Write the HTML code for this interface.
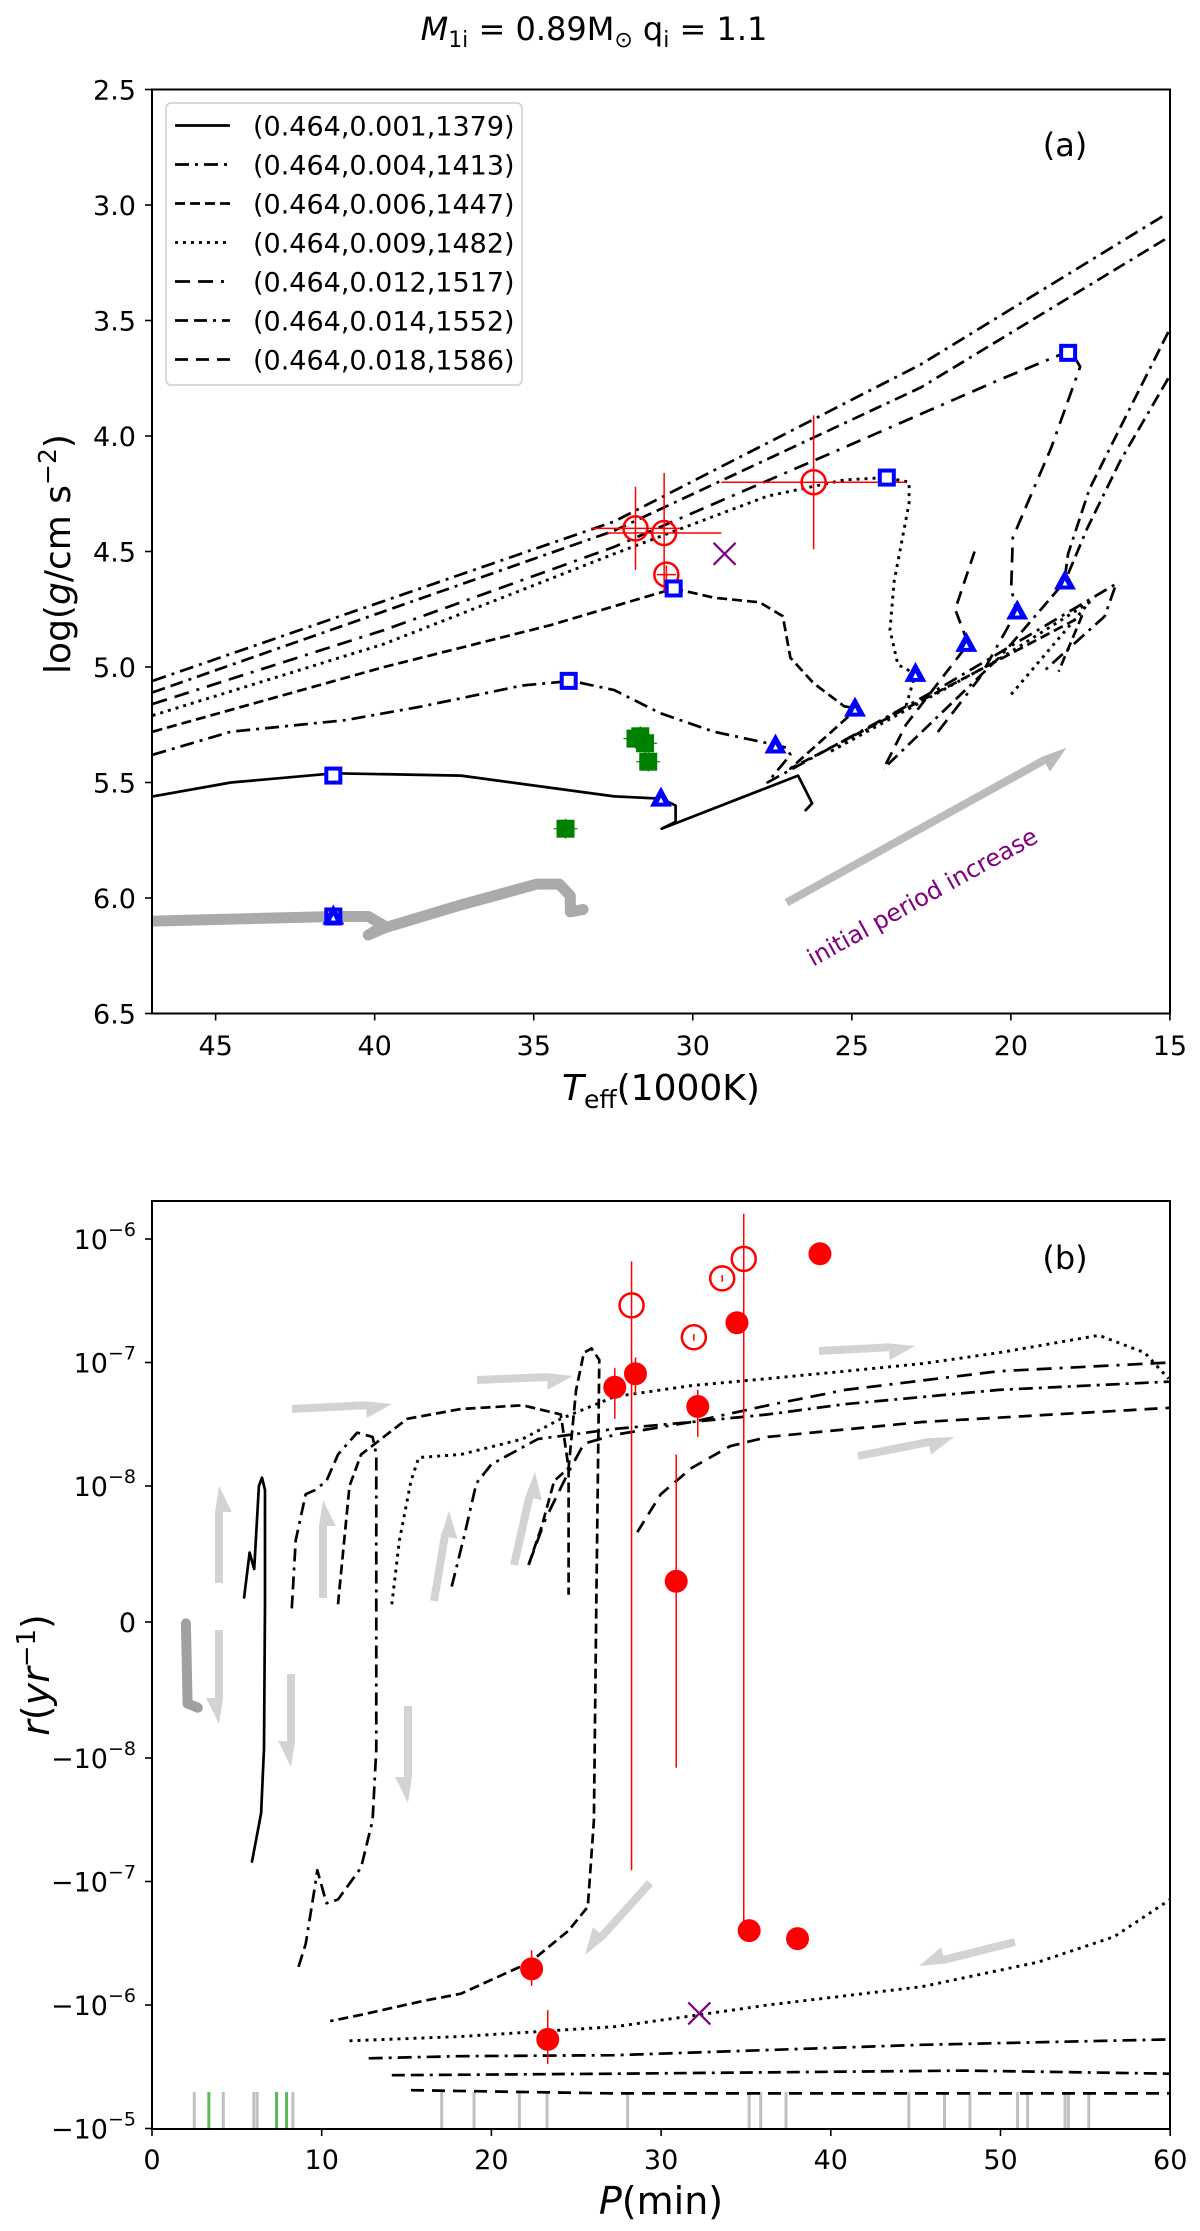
<!DOCTYPE html>
<html><head><meta charset="utf-8"><style>
html,body{margin:0;padding:0;background:#fff;}
svg{display:block;font-family:"DejaVu Sans","Liberation Sans",sans-serif;}
</style></head><body>
<svg id="fig" width="1200" height="2231" viewBox="0 0 1200 2231" xmlns="http://www.w3.org/2000/svg">
<text x="594" y="40" text-anchor="middle" font-size="32"><tspan font-style="italic">M</tspan><tspan font-size="22" dy="7">1i</tspan><tspan dy="-7"> = 0.89M</tspan><tspan font-size="22" dy="7">⊙</tspan><tspan dy="-7"> q</tspan><tspan font-size="22" dy="7">i</tspan><tspan dy="-7"> = 1.1</tspan></text>
<g id="panelTop"></g>
<g id="panelBot"></g>
</svg>
<script>
// ===== Panel (a) data: [Teff (kK), log g] =====
const trackSolidA=[[46.98,5.56],[44.52,5.50],[41.27,5.46],[37.29,5.47],[32.47,5.56],[30.98,5.57],[30.54,5.60],[30.54,5.67],[30.98,5.70],[26.69,5.47],[26.25,5.59],[26.45,5.62]];
const track004A=[[46.98,5.38],[44.52,5.28],[40.9,5.23],[38.5,5.17],[35.36,5.08],[33.82,5.06],[32.47,5.10],[31.02,5.20],[29.34,5.28],[27.65,5.33],[27.05,5.35],[26.93,5.38],[27.65,5.50],[22.1,5.08],[16.69,4.64],[17.05,4.78],[18.98,5.02]];
const track006A=[[46.98,5.28],[39.7,5.0],[34.5,4.82],[30.59,4.66],[29.34,4.70],[27.9,4.72],[27.17,4.78],[26.93,4.96],[26.2,5.07],[25.24,5.17],[24.83,5.18],[26.93,5.44],[21.63,5.06],[17.77,4.78],[18.5,5.02]];
const track009A=[[46.98,5.21],[39.7,4.90],[32.47,4.51],[27.65,4.26],[25.24,4.19],[23.92,4.18],[23.2,4.20],[23.2,4.29],[23.67,4.63],[23.8,4.84],[23.55,4.99],[23.0,5.03],[23.3,5.17],[25.72,5.37],[20.42,4.97],[17.53,4.72],[20.06,5.13]];
const track012A=[[46.98,5.16],[39.7,4.84],[32.47,4.48],[25.24,4.05],[20.42,3.76],[18.13,3.63],[17.82,3.70],[18.73,4.05],[19.94,4.44],[19.99,4.66],[19.82,4.76],[21.0,5.05],[22.4,5.30]];
const track014A=[[46.98,5.11],[32.47,4.41],[22.83,3.79],[15.05,3.14]];
const track014bA=[[15.05,3.75],[16.57,4.11],[17.6,4.40],[18.3,4.63],[20.3,4.95],[24.0,5.44]];
const track018A=[[46.98,5.06],[32.47,4.37],[22.83,3.69],[15.12,3.04]];
const track018bA=[[15.05,3.55],[16.33,3.90],[17.53,4.23],[18.2,4.51],[18.3,4.61]];
const track018cA=[[21.14,4.50],[21.75,4.75],[21.34,4.90],[23.3,5.25],[24.0,5.44]];
const grayTrackA=[[47,6.10],[41.27,6.08],[40.2,6.08],[39.7,6.12],[40.2,6.16],[39.7,6.13],[37.29,6.03],[34.9,5.94],[34.2,5.94],[33.85,5.99],[33.85,6.06],[33.45,6.05]];
const squaresA=[[41.3,5.47],[33.9,5.06],[30.6,4.66],[23.9,4.18],[18.2,3.64],[41.3,6.08]];
const trianglesA=[[41.3,6.08],[31.0,5.57],[27.4,5.34],[24.9,5.18],[23.0,5.03],[21.4,4.90],[19.8,4.76],[18.3,4.63]];
const obsT=[31.8,30.9,30.83,26.2];
const obsG=[4.40,4.42,4.60,4.20];
const obsTerr=[1.4,1.8,0.3,2.9];
const obsGerr=[0.18,0.26,0.04,0.29];
const greenT=[31.8,31.65,31.5,31.4,34.0];
const greenG=[5.31,5.30,5.33,5.41,5.70];
const crossA=[29.0,4.51];
const xTicksA=[45,40,35,30,25,20,15];
const yTicksA=[2.5,3.0,3.5,4.0,4.5,5.0,5.5,6.0,6.5];
const legendLabels=["(0.464,0.001,1379)","(0.464,0.004,1413)","(0.464,0.006,1447)","(0.464,0.009,1482)","(0.464,0.012,1517)","(0.464,0.014,1552)","(0.464,0.018,1586)"];

// ===== Panel (b) data: [P (min), r (1/yr)] =====
const trackSolidB=[[5.43,1.8e-9],[5.75,5.1e-9],[6.02,3.9e-9],[6.3,1e-8],[6.48,1.17e-8],[6.66,9.7e-9],[6.66,1.3e-9],[6.6,-9.3e-9],[6.43,-2.8e-8],[5.89,-6.9e-8]];
const track004B=[[8.24,1e-9],[8.47,6e-9],[9.06,9.4e-9],[9.6,9.7e-9],[10.28,1.1e-8],[10.96,1.8e-8],[12.09,2.7e-8],[13.0,2.5e-8],[13.22,1.8e-8],[13.22,1.3e-9],[13.22,-9.3e-9],[13.0,-3.2e-8],[12.32,-7.7e-8],[10.96,-1.4e-7],[10.28,-1.5e-7],[9.74,-8.1e-8],[9.6,-1.1e-7],[9.06,-3.2e-7],[8.6,-5.1e-7]];
const track006B=[[10.96,1.3e-9],[11.64,1e-8],[12.32,1.8e-8],[15.04,3.5e-8],[18.2,4.2e-8],[21.83,4.5e-8],[24.09,3.8e-8],[24.55,1.4e-8],[24.55,2e-9]];
const track006bB=[[22.19,4.2e-9],[22.96,7e-9],[23.7,1.1e-8],[24.55,1.4e-8],[24.99,6e-8],[25.45,1.2e-7],[25.9,1.3e-7],[26.36,1.05e-7],[26.18,1.3e-9],[26.04,-3.2e-8],[25.68,-1.6e-7],[24.55,-2.5e-7],[22.28,-4.5e-7],[18.2,-8.1e-7],[15.94,-9.3e-7],[12.32,-1.2e-6],[10.5,-1.35e-6]];
const track009B=[[14.13,1.3e-9],[14.58,6e-9],[15.26,1.1e-8],[15.72,1.7e-8],[18.2,1.8e-8],[21.83,2.4e-8],[24.09,3.5e-8],[27.26,5.3e-8],[31.8,6.5e-8],[36.3,7.4e-8],[40.85,8.5e-8],[45.4,9.8e-8],[49.9,1.2e-7],[55.8,1.66e-7],[58.5,1.2e-7],[59.9,7.4e-8]];
const track009nB=[[11.64,-1.95e-6],[18.2,-1.8e-6],[27.26,-1.5e-6],[32.25,-1.2e-6],[36.3,-1e-6],[45.4,-7.1e-7],[52.2,-4.5e-7],[56.7,-2.8e-7],[60,-1.4e-7]];
const track012B=[[17.66,2.6e-9],[18.43,6.5e-9],[19.11,1.05e-8],[20.0,1.5e-8],[22.74,2.4e-8],[27.26,2.9e-8],[31.8,3.3e-8],[36.3,3.8e-8],[40.85,4.6e-8],[49.9,6e-8],[60,7e-8]];
const track014B=[[22.19,4.2e-9],[23.2,7.6e-9],[24.55,1.3e-8],[25.45,2.2e-8],[27.26,2.6e-8],[31.8,3.3e-8],[36.3,4.5e-8],[40.85,6e-8],[49.9,8.5e-8],[60,1e-7]];
const track018B=[[28.6,6.6e-9],[29.98,9.4e-9],[31.8,1.4e-8],[34.06,2.1e-8],[36.3,2.5e-8],[45.4,3.3e-8],[60,4.3e-8]];
const trackNeg1B=[[12.77,-2.7e-6],[18.0,-2.6e-6],[27.26,-2.55e-6],[45.4,-2.1e-6],[60,-1.9e-6]];
const trackNeg2B=[[14.13,-3.7e-6],[27.26,-3.6e-6],[48.0,-3.4e-6],[60,-3.6e-6]];
const trackNeg3B=[[15.26,-4.9e-6],[27.26,-5.2e-6],[45.4,-5.2e-6],[60,-5.2e-6]];
const grayTrackB=[[2.0,-1e-10],[2.1,-6e-9],[2.7,-6.3e-9]];
const filledP=[27.27,28.49,32.16,34.47,39.36,30.89,35.19,38.04,22.37,23.32];
const filledR=[6.3e-8,8.1e-8,4.4e-8,2.1e-7,7.6e-7,3e-9,-2.5e-7,-2.9e-7,-5.1e-7,-1.9e-6];
const filledLo=[3.5e-8,5.5e-8,2.5e-8,2.1e-7,7.6e-7,-1.2e-8,-2.5e-7,-2.9e-7,-7e-7,-3e-6];
const filledHi=[9e-8,1.1e-7,6e-8,2.1e-7,7.6e-7,1.8e-8,-2.5e-7,-2.9e-7,-3.6e-7,-1.1e-6];
const openP=[28.26,31.93,33.6,34.87];
const openR=[2.9e-7,1.6e-7,4.8e-7,6.9e-7];
const openLo=[-8.1e-8,1.5e-7,4.5e-7,-2.5e-7];
const openHi=[6.6e-7,1.7e-7,5.1e-7,1.6e-6];
const crossB=[32.25,-1.17e-6];
const rugGray=[2.49,4.2,6.0,6.2,8.3,17.07,18.98,21.65,23.28,28.03,35.19,35.87,37.36,44.6,46.7,48.2,51.0,51.6,53.8,54.0,55.2];
const rugGreen=[3.35,7.34,7.93];
const xTicksB=[0,10,20,30,40,50,60];
const yTickVals=[1e-6,1e-7,1e-8,0,-1e-8,-1e-7,-1e-6,-1e-5];
const yTickExp=["−6","−7","−8","","−8","−7","−6","−5"];

const NS="http://www.w3.org/2000/svg";
function mk(parent,tag,attrs){const e=document.createElementNS(NS,tag);for(const k in attrs)e.setAttribute(k,attrs[k]);parent.appendChild(e);return e;}
function tsp(parent,txt,attrs){const t=mk(parent,'tspan',attrs||{});t.textContent=txt;return t;}
const xT=T=>152+(47-T)*31.81;
const yG=g=>89.5+(g-2.5)*231;
const xP=P=>152+P*16.97;
function yR(v){const a=Math.abs(v);let t;if(a<=1e-8)t=v/1e-8*136;else t=Math.sign(v)*(136+(Math.log10(a)+8)*123.5);return 1622-t;}
const DASH={s:"",d004:"14 6 3 6",d006:"10 5",d009:"3 5",d012:"15 8 15 8 3 8",d014:"13 6 13 6 3 6",d018:"13 8"};
const LW=2.7;

const gTop=document.getElementById('panelTop'), gBot=document.getElementById('panelBot');
function path(g,pts,fx,fy,dash,w,col,name){
  const d=pts.map((p,i)=>(i?'L':'M')+fx(p[0]).toFixed(1)+','+fy(p[1]).toFixed(1)).join(' ');
  const e=mk(g,'path',{d:d,fill:'none',stroke:col||'#000','stroke-width':w||LW,'stroke-dasharray':dash,'stroke-linejoin':'round','stroke-linecap':dash?'butt':'round'});
  
  
  return e;
}
function grayArrow(g,x1,y1,x2,y2,w,col,name){
  const dx=x2-x1,dy=y2-y1,L=Math.hypot(dx,dy),ux=dx/L,uy=dy/L,nx=-uy,ny=ux;
  const hl=Math.min(L*0.35,26),hw=w*1.6;
  const bx=x2-ux*hl,by=y2-uy*hl;
  const pts=[[x1+nx*w/2,y1+ny*w/2],[bx+nx*w/2,by+ny*w/2],[bx+nx*hw,by+ny*hw],[x2,y2],[bx-nx*w/2,by-ny*w/2],[x1-nx*w/2,y1-ny*w/2]];
  const e=mk(g,'polygon',{points:pts.map(p=>p[0].toFixed(1)+','+p[1].toFixed(1)).join(' '),fill:col});
  
  
}

// ---------- Panel (a) ----------
(function(){
  const g=gTop;
  const cp=mk(g,'clipPath',{id:'clipA'});mk(cp,'rect',{x:152,y:89.5,width:1018,height:924});
  const pg=mk(g,'g',{'clip-path':'url(#clipA)'});
  path(pg,grayTrackA,xT,yG,'',11,'#aaaaaa','gray-track-a');
  path(pg,track018A,xT,yG,DASH.d004,LW,'#000','track-0.018');
  path(pg,track018bA,xT,yG,DASH.d014,LW,'#000','track-0.018-return');
  path(pg,track018cA,xT,yG,DASH.d018,LW,'#000','track-0.018-loop');
  path(pg,track014A,xT,yG,DASH.d014,LW,'#000','track-0.014');
  path(pg,track014bA,xT,yG,DASH.d014,LW,'#000','track-0.014-return');
  path(pg,track012A,xT,yG,DASH.d012,LW,'#000','track-0.012');
  path(pg,track009A,xT,yG,DASH.d009,2.9,'#000','track-0.009');
  path(pg,track006A,xT,yG,DASH.d006,LW,'#000','track-0.006');
  path(pg,track004A,xT,yG,DASH.d004,LW,'#000','track-0.004');
  path(pg,trackSolidA,xT,yG,'',LW,'#000','track-0.001');
  for(let i=0;i<obsT.length;i++){
    const x=xT(obsT[i]),y=yG(obsG[i]);
    const l1=mk(pg,'line',{x1:xT(obsT[i]+obsTerr[i]),x2:xT(obsT[i]-obsTerr[i]),y1:y,y2:y,stroke:'#f00','stroke-width':1.5});
    
    
    const l2=mk(pg,'line',{x1:x,x2:x,y1:yG(obsG[i]-obsGerr[i]),y2:yG(obsG[i]+obsGerr[i]),stroke:'#f00','stroke-width':1.5});
    
    
    const c=mk(pg,'circle',{cx:x,cy:y,r:12,fill:'none',stroke:'#f00','stroke-width':2.5});
    
    
  }
  for(let i=0;i<greenT.length;i++){
    const x=xT(greenT[i]),y=yG(greenG[i]);
    mk(pg,'line',{x1:x-12,x2:x+12,y1:y,y2:y,stroke:'#080','stroke-width':1.2});
    mk(pg,'line',{x1:x,x2:x,y1:y-10,y2:y+10,stroke:'#080','stroke-width':1.2});
    const r=mk(pg,'rect',{x:x-9,y:y-9,width:18,height:18,fill:'#008000'});
    
    
  }
  const cx=xT(crossA[0]),cy=yG(crossA[1]);
  const cr=mk(pg,'path',{d:`M${cx-11},${cy-11}L${cx+11},${cy+11}M${cx-11},${cy+11}L${cx+11},${cy-11}`,stroke:'#800080','stroke-width':2.2});
  
  
  for(const p of squaresA){
    const r=mk(pg,'rect',{x:xT(p[0])-7,y:yG(p[1])-7,width:14,height:14,fill:'#fff',stroke:'#00f','stroke-width':4});
    
    
  }
  for(const p of trianglesA){
    const x=xT(p[0]),y=yG(p[1]);
    const t=mk(pg,'polygon',{points:`${x},${y-12} ${x+11},${y+8} ${x-11},${y+8}`,fill:'#00f'});
    
    
    mk(pg,'polygon',{points:`${x},${y-1} ${x+2.5},${y+4} ${x-2.5},${y+4}`,fill:'#fff'});
  }
  grayArrow(g,xT(27.05),yG(6.02),xT(18.25),yG(5.35),8,'#bbbbbb','period-arrow');
  const tx=mk(g,'text',{x:923,y:905,'font-size':24,fill:'#800080','text-anchor':'middle',transform:'rotate(-29 923 898)'});
  tx.textContent='initial period increase';
  
  
  const fr=mk(g,'rect',{x:152,y:89.5,width:1018,height:924,fill:'none',stroke:'#000','stroke-width':2});
  
  
  for(const t of xTicksA){
    const x=xT(t);
    mk(g,'line',{x1:x,x2:x,y1:1013.5,y2:1020.5,stroke:'#000','stroke-width':1.6});
    const e=mk(g,'text',{x:x,y:1055,'font-size':27,'text-anchor':'middle'});e.textContent=t;
    
    
  }
  for(const t of yTicksA){
    const y=yG(t);
    mk(g,'line',{x1:145,x2:152,y1:y,y2:y,stroke:'#000','stroke-width':1.6});
    const e=mk(g,'text',{x:136,y:y+10,'font-size':27,'text-anchor':'end'});e.textContent=t.toFixed(1);
    
    
  }
  const xl=mk(g,'text',{x:661,y:1100,'font-size':36,'text-anchor':'middle'});
  tsp(xl,'T',{'font-style':'italic'});tsp(xl,'eff',{'font-size':25,dy:8});tsp(xl,'(1000K)',{dy:-8});
  
  
  const yl=mk(g,'text',{x:58,y:566,'font-size':36,'text-anchor':'middle',transform:'rotate(-90 58 554)'});
  tsp(yl,'log(');tsp(yl,'g',{'font-style':'italic'});tsp(yl,'/cm s');tsp(yl,'−2',{'font-size':25,dy:-14});tsp(yl,')',{dy:14});
  
  
  const pl=mk(g,'text',{x:1065,y:156,'font-size':32,'text-anchor':'middle'});pl.textContent='(a)';
  
  
  const lg=mk(g,'g',{});
  
  
  mk(lg,'rect',{x:166,y:103,width:356,height:282,rx:5,fill:'#fff','fill-opacity':0.85,stroke:'#ccc','stroke-width':1.5});
  const ds=[DASH.s,DASH.d004,DASH.d006,DASH.d009,DASH.d012,DASH.d014,DASH.d018];
  for(let i=0;i<legendLabels.length;i++){
    const y=125.5+i*39;
    const l=mk(lg,'line',{x1:175,x2:230,y1:y,y2:y,stroke:'#000','stroke-width':LW,'stroke-dasharray':ds[i]});
    
    
    const t=mk(lg,'text',{x:253,y:y+10,'font-size':27});t.textContent=legendLabels[i];
    
    
  }
})();

// ---------- Panel (b) ----------
(function(){
  const g=gBot;
  const cp=mk(g,'clipPath',{id:'clipB'});mk(cp,'rect',{x:152,y:1201,width:1018,height:928});
  const pg=mk(g,'g',{'clip-path':'url(#clipB)'});
  const AC='#d3d3d3';
  grayArrow(pg,219,1583,219,1486,8,AC,'arrow-up');
  grayArrow(pg,219,1630,219,1724,8,AC,'arrow-down');
  grayArrow(pg,323,1598,323,1500,8,AC,'arrow-up');
  grayArrow(pg,291,1674,291,1767,8,AC,'arrow-down');
  grayArrow(pg,408,1706,408,1803,8,AC,'arrow-down');
  grayArrow(pg,434,1601,449,1511,8,AC,'arrow-up');
  grayArrow(pg,514,1565,535,1472,8,AC,'arrow-up');
  grayArrow(pg,292,1409,392,1404,8,AC,'arrow-right');
  grayArrow(pg,477,1380,573,1376,8,AC,'arrow-right');
  grayArrow(pg,819,1351,915,1346,8,AC,'arrow-right');
  grayArrow(pg,858,1456,954,1437,8,AC,'arrow-right');
  grayArrow(pg,1015,1942,919,1966,8,AC,'arrow-left');
  grayArrow(pg,650,1883,585,1955,8,AC,'arrow-down-left');
  path(pg,grayTrackB,xP,yR,'',10,'#a0a0a0','gray-track-b');
  for(const p of rugGray){const l=mk(pg,'line',{x1:xP(p),x2:xP(p),y1:2092,y2:2129,stroke:'#c0c0c0','stroke-width':3});
    
    }
  for(const p of rugGreen){const l=mk(pg,'line',{x1:xP(p),x2:xP(p),y1:2092,y2:2129,stroke:'#5cb85c','stroke-width':3});
    
    }
  path(pg,trackSolidB,xP,yR,'',LW,'#000','track-b-0.001');
  path(pg,track004B,xP,yR,DASH.d014,LW,'#000','track-b-0.004');
  path(pg,track006B,xP,yR,DASH.d006,LW,'#000','track-b-0.006');
  path(pg,track006bB,xP,yR,DASH.d006,LW,'#000','track-b-0.006-loop');
  path(pg,track009B,xP,yR,DASH.d009,2.9,'#000','track-b-0.009');
  path(pg,track009nB,xP,yR,DASH.d009,2.9,'#000','track-b-0.009-neg');
  path(pg,track012B,xP,yR,DASH.d004,LW,'#000','track-b-0.012');
  path(pg,track014B,xP,yR,DASH.d012,LW,'#000','track-b-0.014');
  path(pg,track018B,xP,yR,DASH.d018,LW,'#000','track-b-0.018');
  path(pg,trackNeg1B,xP,yR,DASH.d004,LW,'#000','track-b-neg-1');
  path(pg,trackNeg2B,xP,yR,DASH.d014,LW,'#000','track-b-neg-2');
  path(pg,trackNeg3B,xP,yR,DASH.d018,LW,'#000','track-b-neg-3');
  for(let i=0;i<openP.length;i++){
    const x=xP(openP[i]);
    const l=mk(pg,'line',{x1:x,x2:x,y1:yR(openLo[i]),y2:yR(openHi[i]),stroke:'#f00','stroke-width':1.5});
    
    
    const c=mk(pg,'circle',{cx:x,cy:yR(openR[i]),r:12,fill:'none',stroke:'#f00','stroke-width':2.5});
    
    
  }
  for(let i=0;i<filledP.length;i++){
    const x=xP(filledP[i]);
    const l=mk(pg,'line',{x1:x,x2:x,y1:yR(filledLo[i]),y2:yR(filledHi[i]),stroke:'#f00','stroke-width':1.5});
    
    
    const c=mk(pg,'circle',{cx:x,cy:yR(filledR[i]),r:11.5,fill:'#f00'});
    
    
  }
  const cx=xP(crossB[0]),cy=yR(crossB[1]);
  const cr=mk(pg,'path',{d:`M${cx-11},${cy-11}L${cx+11},${cy+11}M${cx-11},${cy+11}L${cx+11},${cy-11}`,stroke:'#800080','stroke-width':2.2});
  
  
  const fr=mk(g,'rect',{x:152,y:1201,width:1018,height:928,fill:'none',stroke:'#000','stroke-width':2});
  
  
  for(const t of xTicksB){
    const x=xP(t);
    mk(g,'line',{x1:x,x2:x,y1:2129,y2:2136,stroke:'#000','stroke-width':1.6});
    const e=mk(g,'text',{x:x,y:2169,'font-size':27,'text-anchor':'middle'});e.textContent=t;
    
    
  }
  for(let i=0;i<yTickVals.length;i++){
    const v=yTickVals[i],y=yR(v);
    mk(g,'line',{x1:145,x2:152,y1:y,y2:y,stroke:'#000','stroke-width':1.6});
    const e=mk(g,'text',{x:136,y:y+10,'font-size':27,'text-anchor':'end'});
    if(v===0)e.textContent='0';
    else{tsp(e,(v<0?'−':'')+'10');tsp(e,yTickExp[i],{'font-size':19,dy:-13});}
    
    
  }
  const xl=mk(g,'text',{x:661,y:2214,'font-size':38,'text-anchor':'middle'});
  tsp(xl,'P',{'font-style':'italic'});tsp(xl,'(min)');
  
  
  const yl=mk(g,'text',{x:36,y:1688,'font-size':38,'text-anchor':'middle',transform:'rotate(-90 36 1675)'});
  tsp(yl,'r',{'font-style':'italic'});tsp(yl,'(');tsp(yl,'yr',{'font-style':'italic'});tsp(yl,'−1',{'font-size':26,dy:-14});tsp(yl,')',{dy:14});
  
  
  const pl=mk(g,'text',{x:1065,y:1269,'font-size':32,'text-anchor':'middle'});pl.textContent='(b)';
  
  
})();
</script>
</body></html>
